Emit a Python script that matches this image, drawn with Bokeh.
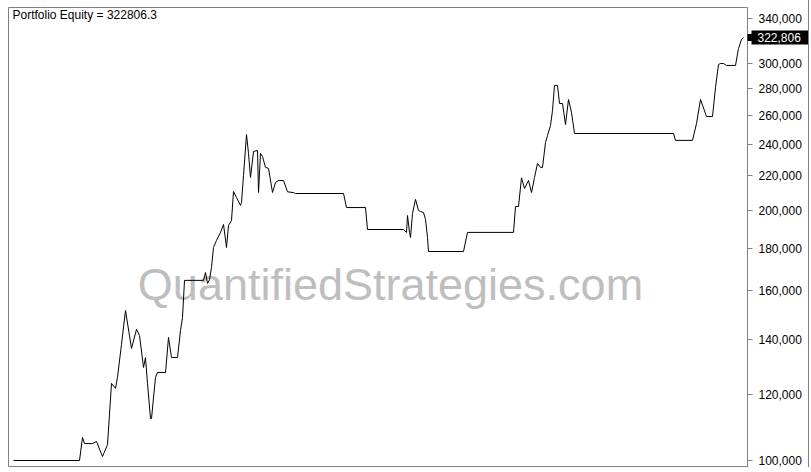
import math
from bokeh.plotting import figure
from bokeh.models import (Range1d, FixedTicker, NumeralTickFormatter, Label, LogAxis,
                          ColumnDataSource)
from bokeh.embed import file_html
from bokeh.resources import INLINE

# ---- data (bar index, portfolio equity) ----
bars = [0, 66, 69, 71, 79, 83, 89, 94, 98, 102,
        104, 108, 112, 118, 123, 126, 130, 132, 134, 137,
        138, 142, 144, 152, 155, 158, 164, 167, 169, 171,
        190, 192, 194, 196, 198, 200, 203, 207, 210, 213,
        215, 218, 220, 223, 227, 228, 230, 233, 235, 237,
        240, 244, 245, 247, 249, 252, 255, 259, 262, 265,
        270, 274, 280, 282, 330, 333, 352, 354, 390, 393,
        394, 396, 397, 399, 402, 405, 407, 410, 412, 414,
        415, 450, 454, 500, 502, 505, 508, 511, 515, 518,
        521, 524, 527, 529, 532, 534, 537, 539, 541, 544,
        546, 549, 552, 555, 558, 561, 660, 662, 679, 683,
        687, 693, 699, 702, 705, 707, 710, 713, 722, 725,
        728, 730]
equity = [100000, 100000, 106600, 104800, 104800, 105400, 101100, 104500, 123800, 122100,
          125900, 138000, 151500, 136400, 143800, 141400, 129400, 133000, 123800, 112300,
          112300, 125900, 127600, 127600, 140600, 133000, 133000, 143400, 148600, 164700,
          164700, 168300, 163300, 165000, 170700, 180400, 184000, 188100, 192300, 180400,
          191700, 194400, 210700, 207200, 202700, 204400, 220200, 246700, 234100, 219000,
          235400, 236000, 210100, 234100, 232100, 225200, 224600, 210100, 216000, 217200,
          217200, 210500, 210000, 209500, 209500, 201500, 201500, 189600, 189600, 188100,
          197100, 188100, 185500, 198200, 206100, 199900, 199300, 198800, 195000, 185500,
          178400, 178400, 188100, 188100, 202100, 202100, 218800, 212400, 217200, 210100,
          219000, 227700, 225200, 225200, 241300, 246000, 252900, 263700, 282600, 282600,
          268800, 268800, 253600, 271800, 262200, 247400, 247400, 242700, 242700, 254300,
          271800, 259300, 259300, 281000, 299500, 300300, 300300, 298700, 298700, 313100,
          321000, 322806.3]
y_ticks = [100000, 120000, 140000, 160000, 180000, 200000, 220000,
           240000, 260000, 280000, 300000, 340000]
watermark = "QuantifiedStrategies.com"
title_text = "Portfolio Equity = %.1f" % equity[-1]

FRAME_W, FRAME_H = 739, 460
FONT = "Liberation Sans"
GRAY = "#808080"

p = figure(frame_width=FRAME_W, frame_height=FRAME_H, output_backend="svg",
           toolbar_location=None, y_axis_type="log", y_axis_location="right",
           x_axis_location=None, x_range=Range1d(-5, 734),
           y_range=Range1d(98080, 350700),
           min_border_left=8, min_border_top=7, min_border_bottom=0, min_border_right=61)
p.styles = {"border-right": "1px solid #808080"}
p.background_fill_color = "white"
p.border_fill_color = "white"
p.outline_line_color = GRAY
p.outline_line_width = 1
p.xgrid.visible = False
p.ygrid.visible = False

ax = p.yaxis[0]
ax.ticker = FixedTicker(ticks=y_ticks, minor_ticks=[])
ax.formatter = NumeralTickFormatter(format="0,0")
ax.major_label_text_font = FONT
ax.major_label_text_font_size = "12px"
ax.major_label_text_color = "black"
ax.major_label_standoff = 6
ax.major_tick_in = 0
ax.major_tick_out = 5
ax.major_tick_line_color = GRAY
ax.minor_tick_line_color = None
ax.axis_line_color = GRAY

# last-value marker: a second right axis with a single, thick black tick
last = equity[-1]
px_per_log = FRAME_H / math.log(350700 / 98080)
nub = [last * math.exp(k / px_per_log) for k in (-3, -2, -1, 0, 1, 2, 3)]
marker = LogAxis(ticker=FixedTicker(ticks=[last], minor_ticks=nub),
                 formatter=NumeralTickFormatter(format="0,0"),
                 axis_line_color=None,
                 major_tick_line_color="black", major_tick_line_width=14,
                 major_tick_line_cap="butt",
                 major_tick_in=53, major_tick_out=6, major_label_standoff=-53,
                 minor_tick_line_color="black", minor_tick_line_width=1,
                 minor_tick_in=57, minor_tick_out=0,
                 major_label_text_color="white", major_label_text_font=FONT,
                 major_label_text_font_size="12px")
p.add_layout(marker, "right")

# watermark
p.add_layout(Label(x=382, y=183, x_units="screen", y_units="screen", text=watermark,
                   text_font=FONT, text_font_size="45px",
                   text_color="#bebebe", text_align="center", text_baseline="alphabetic",
                   level="underlay"))

src = ColumnDataSource(dict(bar=bars, equity=equity))
p.line("bar", "equity", source=src, line_color="black", line_width=1)

# title
p.add_layout(Label(x=4, y=FRAME_H - 7.5, x_units="screen", y_units="screen", text=title_text,
                   text_font=FONT, text_font_size="12px", text_color="black",
                   text_align="left", text_baseline="middle"))

open("out.html", "w").write(file_html(p, INLINE))
